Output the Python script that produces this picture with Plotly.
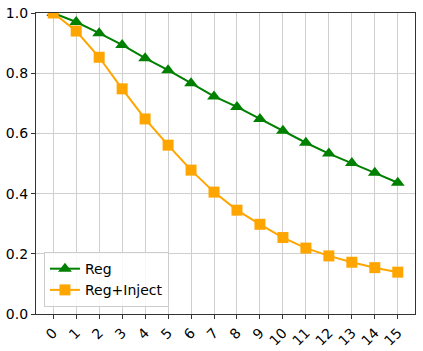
import plotly.graph_objects as go

steps = list(range(16))
reg = [1.0, 0.97, 0.933, 0.894, 0.85, 0.81, 0.767, 0.723, 0.688, 0.648,
       0.609, 0.569, 0.533, 0.502, 0.469, 0.436]
reg_inject = [1.0, 0.94, 0.853, 0.748, 0.648, 0.561, 0.478, 0.405, 0.345, 0.298,
              0.254, 0.219, 0.193, 0.172, 0.154, 0.139]

fig = go.Figure()
fig.add_trace(go.Scatter(x=steps, y=reg, name="Reg", mode="lines+markers",
                         line=dict(color="green", width=2),
                         marker=dict(symbol="triangle-up", size=12, color="green")))
fig.add_trace(go.Scatter(x=steps, y=reg_inject, name="Reg+Inject", mode="lines+markers",
                         line=dict(color="orange", width=2),
                         marker=dict(symbol="square", size=11, color="orange")))

axis_style = dict(showline=True, linecolor="#333", linewidth=1.2, mirror=True,
                  showgrid=True, gridcolor="#cfcfcf", gridwidth=1,
                  ticks="outside", ticklen=4, tickcolor="#333", zeroline=False,
                  automargin=False,
                  tickfont=dict(family="DejaVu Sans", size=14, color="black"))

fig.update_xaxes(range=[-0.75, 15.75], tickmode="array", tickvals=steps,
                 tickangle=-45, **axis_style)
fig.update_yaxes(range=[0, 1], tickmode="array", tickvals=[0, 0.2, 0.4, 0.6, 0.8, 1.0],
                 ticktext=["0.0", "0.2", "0.4", "0.6", "0.8", "1.0"], **axis_style)

fig.update_layout(
    width=423, height=351,
    margin=dict(l=36, r=8, t=13, b=37),
    plot_bgcolor="white", paper_bgcolor="white",
    font=dict(family="DejaVu Sans", size=14, color="black"),
    legend=dict(x=0.021, y=0.023, xanchor="left", yanchor="bottom",
                bgcolor="rgba(255,255,255,0.85)", bordercolor="#ccc", borderwidth=1,
                font=dict(size=14), itemwidth=30, tracegroupgap=0),
)

# drop the browser's default body margin so the figure sits at the page corner
fig.write_html("out.html", config={"displayModeBar": False},
               post_script="document.body.style.margin='0';")
